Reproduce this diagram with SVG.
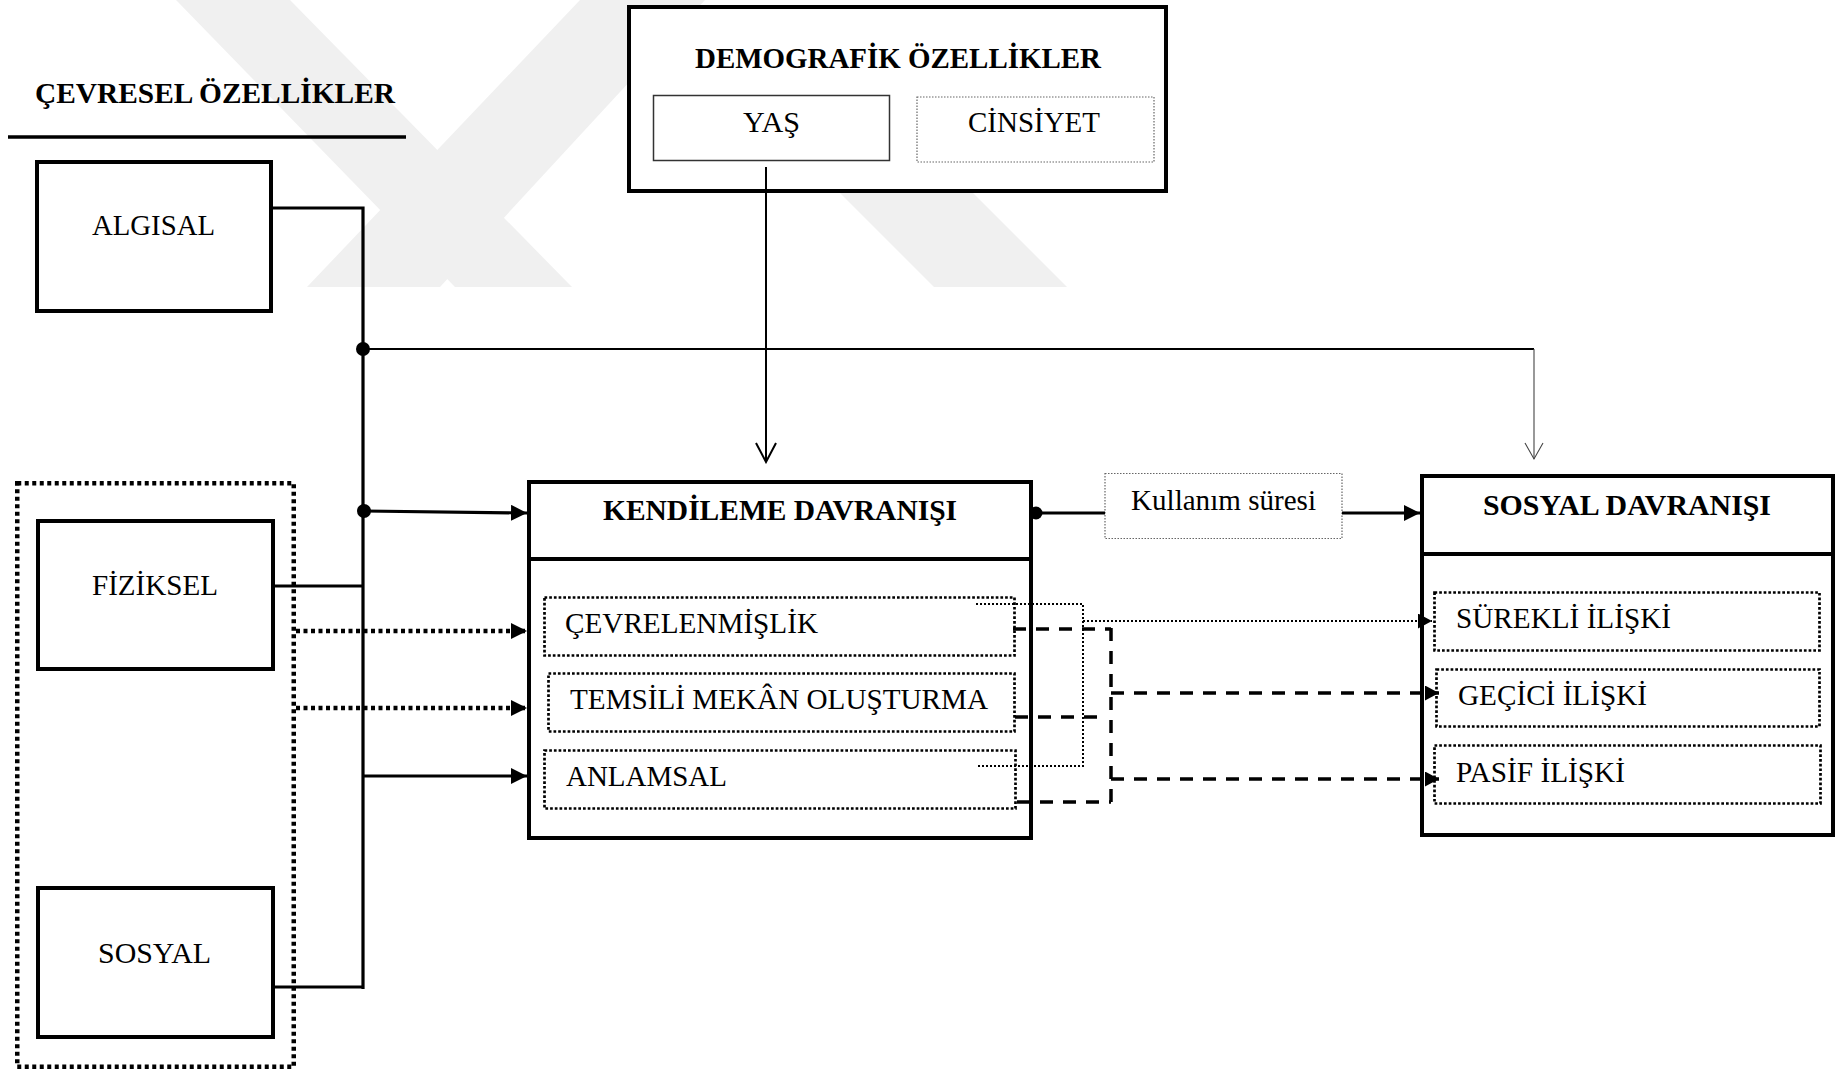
<svg xmlns="http://www.w3.org/2000/svg" width="1838" height="1074" viewBox="0 0 1838 1074">
  <style>
    text { font-family: "Liberation Serif", "Times New Roman", serif; font-size: 29px; fill: #000; }
    .b { font-weight: bold; }
    .box { fill: #fff; stroke: #000; stroke-width: 4; }
    .thin { fill: #fff; stroke: #333; stroke-width: 1.5; }
    .fine { fill: #fff; stroke: #666; stroke-width: 1.2; stroke-dasharray: 1.5 1.5; }
    .sub { fill: none; stroke: #000; stroke-width: 2.7; stroke-dasharray: 2.7 2; }
    .group { fill: none; stroke: #000; stroke-width: 4.5; stroke-dasharray: 4 3.5; }
    .ln { fill: none; stroke: #000; stroke-width: 3.2; }
    .dash { fill: none; stroke: #000; stroke-width: 3.5; stroke-dasharray: 13 10; }
    .dot { fill: none; stroke: #000; stroke-width: 2; stroke-dasharray: 2 2; }
    .thickdot { fill: none; stroke: #000; stroke-width: 4.5; stroke-dasharray: 4 3.5; }
    .wm { fill: #f0f0f0; }
  </style>
  <defs>
    <marker id="arr" viewBox="0 0 16 16" refX="16" refY="8" markerWidth="16" markerHeight="16" markerUnits="userSpaceOnUse" orient="auto">
      <path d="M0,0 L16,8 L0,16 Z" fill="#000"/>
    </marker>
    <marker id="arrS" viewBox="0 0 14 15" refX="14" refY="7.5" markerWidth="14" markerHeight="15" markerUnits="userSpaceOnUse" orient="auto">
      <path d="M0,0 L14,7.5 L0,15 Z" fill="#000"/>
    </marker>
    <marker id="open" viewBox="0 0 22 22" refX="20" refY="11" markerWidth="22" markerHeight="22" markerUnits="userSpaceOnUse" orient="auto">
      <path d="M1,1 L20,11 L1,21" fill="none" stroke="#000" stroke-width="2"/>
    </marker>
    <marker id="openThin" viewBox="0 0 20 20" refX="17" refY="10" markerWidth="20" markerHeight="20" markerUnits="userSpaceOnUse" orient="auto">
      <path d="M1,1 L17,10 L1,19" fill="none" stroke="#444" stroke-width="1.1"/>
    </marker>
  </defs>
  <rect x="0" y="0" width="1838" height="1074" fill="#fff"/>

  <g id="watermark">
    <polygon class="wm" points="176,0 290,0 572,287 455,287"/>
    <polygon class="wm" points="580,0 705,0 440,287 307,287"/>
    <polygon class="wm" points="790,143 923,143 1067,287 934,287"/>
  </g>

  <g id="title-cevresel">
    <text class="b" x="35" y="103" textLength="360" lengthAdjust="spacingAndGlyphs">ÇEVRESEL ÖZELLİKLER</text>
    <line x1="8" y1="137" x2="406" y2="137" stroke="#000" stroke-width="3.5"/>
  </g>

  <g id="algisal">
    <rect class="box" x="37" y="162" width="234" height="149"/>
    <text x="92" y="235" textLength="123" lengthAdjust="spacingAndGlyphs">ALGISAL</text>
  </g>

  <g id="fiziksel-sosyal-group">
    <rect class="group" x="17.25" y="483.25" width="276.5" height="583.5"/>
  </g>
  <g id="fiziksel">
    <rect class="box" x="38" y="521" width="235" height="148"/>
    <text x="92" y="595" textLength="126" lengthAdjust="spacingAndGlyphs">FİZİKSEL</text>
  </g>
  <g id="sosyal">
    <rect class="box" x="38" y="888" width="235" height="149"/>
    <text x="98" y="963" textLength="113" lengthAdjust="spacingAndGlyphs">SOSYAL</text>
  </g>

  <g id="demografik">
    <rect class="box" x="629" y="7" width="537" height="184"/>
    <text class="b" x="695" y="68" textLength="406" lengthAdjust="spacingAndGlyphs">DEMOGRAFİK ÖZELLİKLER</text>
  </g>
  <g id="yas">
    <rect class="thin" x="653.5" y="95.5" width="236" height="65"/>
    <text x="743" y="132" textLength="57" lengthAdjust="spacingAndGlyphs">YAŞ</text>
  </g>
  <g id="cinsiyet">
    <rect class="fine" x="917" y="97" width="237" height="65"/>
    <text x="968" y="132" textLength="132" lengthAdjust="spacingAndGlyphs">CİNSİYET</text>
  </g>

  <g id="kendileme">
    <rect class="box" x="529" y="482" width="502" height="356"/>
    <line x1="527" y1="559" x2="1033" y2="559" stroke="#000" stroke-width="4"/>
    <text class="b" x="603" y="520" textLength="354" lengthAdjust="spacingAndGlyphs">KENDİLEME DAVRANIŞI</text>
  </g>
  <g id="cevrelenmislik">
    <rect class="sub" x="544.5" y="597.5" width="470" height="58"/>
    <text x="565" y="633" textLength="253" lengthAdjust="spacingAndGlyphs">ÇEVRELENMİŞLİK</text>
  </g>
  <g id="temsili">
    <rect class="sub" x="548.5" y="673.5" width="466" height="58"/>
    <text x="570" y="709" textLength="418" lengthAdjust="spacingAndGlyphs">TEMSİLİ MEKÂN OLUŞTURMA</text>
  </g>
  <g id="anlamsal">
    <rect class="sub" x="544.5" y="750.5" width="471" height="58"/>
    <text x="566" y="786" textLength="161" lengthAdjust="spacingAndGlyphs">ANLAMSAL</text>
  </g>

  <g id="kullanim">
    <rect class="fine" x="1105" y="473.5" width="237" height="65"/>
    <text x="1131" y="510" textLength="185" lengthAdjust="spacingAndGlyphs">Kullanım süresi</text>
  </g>

  <g id="sosyal-davranisi">
    <rect class="box" x="1422" y="476" width="411" height="359"/>
    <line x1="1420" y1="554" x2="1835" y2="554" stroke="#000" stroke-width="4"/>
    <text class="b" x="1483" y="515" textLength="288" lengthAdjust="spacingAndGlyphs">SOSYAL DAVRANIŞI</text>
  </g>
  <g id="surekli">
    <rect class="sub" x="1434.5" y="592.5" width="385" height="58"/>
    <text x="1456" y="628" textLength="215" lengthAdjust="spacingAndGlyphs">SÜREKLİ İLİŞKİ</text>
  </g>
  <g id="gecici">
    <rect class="sub" x="1436.5" y="669.5" width="383" height="57"/>
    <text x="1458" y="705" textLength="189" lengthAdjust="spacingAndGlyphs">GEÇİCİ İLİŞKİ</text>
  </g>
  <g id="pasif">
    <rect class="sub" x="1434.5" y="745.5" width="386" height="58"/>
    <text x="1456" y="782" textLength="169" lengthAdjust="spacingAndGlyphs">PASİF İLİŞKİ</text>
  </g>

  <g id="connectors">
    <polyline class="ln" points="273,208 363,208 363,989"/>
    <line class="ln" x1="275" y1="586" x2="363" y2="586"/>
    <line class="ln" x1="273" y1="987" x2="363" y2="987"/>
    <circle cx="363" cy="349" r="7" fill="#000"/>
    <circle cx="364" cy="511" r="7" fill="#000"/>
    <line x1="363" y1="349" x2="1534" y2="349" stroke="#000" stroke-width="2.2"/>
    <line x1="1534" y1="349" x2="1534" y2="459" stroke="#444" stroke-width="1.1" marker-end="url(#openThin)"/>
    <line x1="766" y1="167" x2="766" y2="462" stroke="#000" stroke-width="2" marker-end="url(#open)"/>
    <line class="ln" x1="364" y1="511" x2="527" y2="513" marker-end="url(#arr)"/>
    <line class="thickdot" x1="296" y1="631" x2="527" y2="631" marker-end="url(#arr)"/>
    <line class="thickdot" x1="296" y1="708" x2="527" y2="708" marker-end="url(#arr)"/>
    <line class="ln" x1="363" y1="776" x2="527" y2="776" marker-end="url(#arr)"/>
    <circle cx="1036" cy="513" r="6.5" fill="#000"/>
    <line class="ln" x1="1036" y1="513" x2="1105" y2="513"/>
    <line class="ln" x1="1342" y1="513" x2="1420" y2="513" marker-end="url(#arr)"/>
    <line class="dash" x1="1013" y1="629" x2="1111" y2="629"/>
    <line class="dash" x1="1015" y1="717" x2="1107" y2="717"/>
    <line class="dash" x1="1017" y1="802" x2="1111" y2="802"/>
    <line class="dash" x1="1111" y1="628" x2="1111" y2="804"/>
    <line class="dash" x1="1111" y1="693" x2="1439" y2="693" marker-end="url(#arrS)"/>
    <line class="dash" x1="1111" y1="779" x2="1439" y2="779" marker-end="url(#arrS)"/>
    <polyline class="dot" points="976,604 1083,604 1083,766 976,766"/>
    <line class="dot" x1="1083" y1="621" x2="1432" y2="621" marker-end="url(#arrS)"/>
  </g>
</svg>
